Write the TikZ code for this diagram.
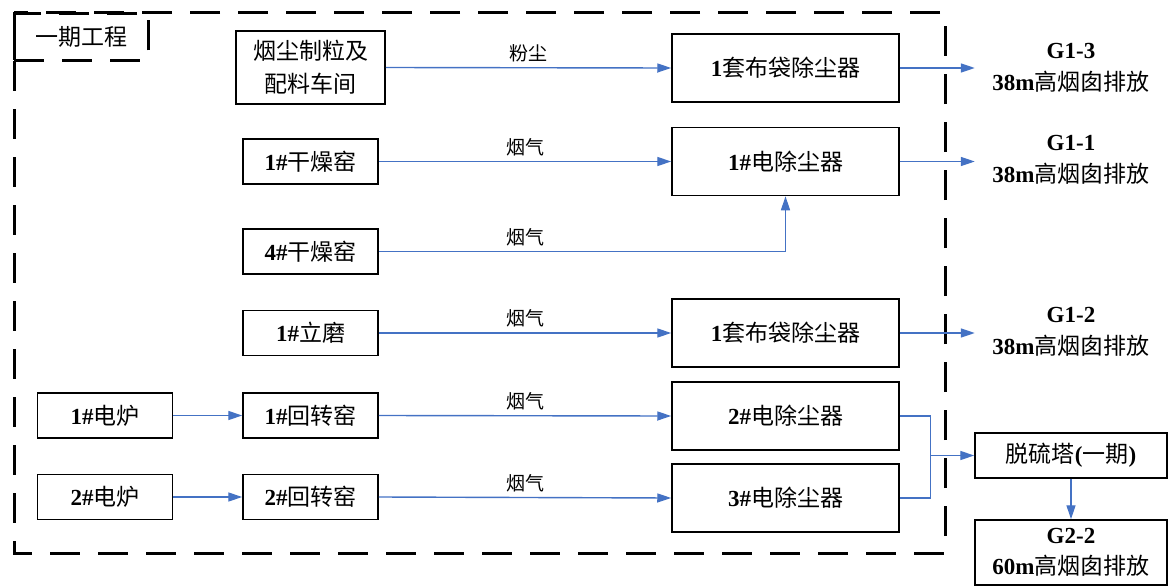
\documentclass[tikz,border=0pt]{standalone}
\usepackage{fontspec}
\setmainfont{Liberation Serif}
\newfontfamily\cjk{Noto Sans CJK SC}
\usepackage{tikz}
\usetikzlibrary{arrows.meta, positioning}
\definecolor{flowblue}{HTML}{4472C4}
\newcommand{\zh}[1]{{\cjk #1}}

\begin{document}
\begin{tikzpicture}[x=1pt, y=-1pt,
    box/.style={rectangle, draw=black, line width=1.5pt, fill=white, inner sep=0pt, align=center, font=\fontsize{23}{33}\selectfont},
    source/.style={box, minimum width=135pt, minimum height=45pt},
    cleaner/.style={box, minimum width=227pt, minimum height=68pt},
    outlet/.style={rectangle, inner sep=0pt, minimum width=192pt, align=center, font=\fontsize{23}{32}\selectfont},
    frame/.style={draw=black, line width=3pt, dash pattern=on 30pt off 18pt},
    flow/.style={draw=flowblue, line width=1.4pt, -{Triangle[length=14pt, width=9pt]}},
    pipe/.style={draw=flowblue, line width=1.4pt},
    gas/.style={font=\fontsize{19}{22}\selectfont, inner sep=5pt}
]
\useasboundingbox (0,0) rectangle (1168,586);

% Phase one boundary with its tab
\draw[frame] (14,13) rectangle (945,553);
\node[frame, rectangle, minimum width=134pt, minimum height=47pt, inner sep=0pt, font=\fontsize{23}{28}\selectfont] (phase) at (81,37) {\zh{一期工程}};

% Left column: furnaces
\node[source] (furnace1) at (105,415.5) {\textbf{1\#}\zh{电炉}};
\node[source] (furnace2) at (105,497) {\textbf{2\#}\zh{电炉}};

% Middle column: sources of dust and flue gas
\node[box, minimum width=149pt, minimum height=73pt] (feed) at (310.5,67.5) {\zh{烟尘制粒及}\\\zh{配料车间}};
\node[source] (dryer1) at (310.5,161.5) {\textbf{1\#}\zh{干燥窑}};
\node[source] (dryer4) at (310.5,251.5) {\textbf{4\#}\zh{干燥窑}};
\node[source] (mill1) at (310.5,333) {\textbf{1\#}\zh{立磨}};
\node[source] (kiln1) at (310.5,415.5) {\textbf{1\#}\zh{回转窑}};
\node[source] (kiln2) at (310.5,497) {\textbf{2\#}\zh{回转窑}};

% Right column: dust collectors
\node[cleaner] (bag1) at (785.5,68) {\textbf{1}\zh{套布袋除尘器}};
\node[cleaner] (esp1) at (785.5,161.5) {\textbf{1\#}\zh{电除尘器}};
\node[cleaner] (bag2) at (785.5,333) {\textbf{1}\zh{套布袋除尘器}};
\node[cleaner] (esp2) at (785.5,416) {\textbf{2\#}\zh{电除尘器}};
\node[cleaner] (esp3) at (785.5,498) {\textbf{3\#}\zh{电除尘器}};

% Outlets
\node[outlet] (stack13) at (1071,68) {\textbf{G1-3}\\\textbf{38m}\zh{高烟囱排放}};
\node[outlet] (stack11) at (1071,160) {\textbf{G1-1}\\\textbf{38m}\zh{高烟囱排放}};
\node[outlet] (stack12) at (1071,332) {\textbf{G1-2}\\\textbf{38m}\zh{高烟囱排放}};
\node[box, minimum width=192pt, minimum height=45pt] (desulf) at (1071,455.5) {\zh{脱硫塔}\textbf{(}\zh{一期}\textbf{)}};
\node[box, minimum width=192pt, minimum height=65pt, font=\fontsize{23}{31}\selectfont] (stack22) at (1071,552.5) {\textbf{G2-2}\\\textbf{60m}\zh{高烟囱排放}};

% Dust and flue gas lines
\draw[flow] (feed.east) -- (bag1.west) node[gas, midway, above] {\zh{粉尘}};
\draw[flow] (dryer1.east) -- (dryer1.east -| esp1.west) node[gas, midway, above] {\zh{烟气}};
\draw[flow] (dryer4.east) -| (esp1.south) node[gas, pos=0.18, above] {\zh{烟气}};
\draw[flow] (mill1.east) -- (bag2.west) node[gas, midway, above] {\zh{烟气}};
\draw[flow] (kiln1.east) -- (esp2.west) node[gas, midway, above] {\zh{烟气}};
\draw[flow] (kiln2.east) -- (esp3.west) node[gas, midway, above] {\zh{烟气}};
\draw[flow] (furnace1.east) -- (kiln1.west);
\draw[flow] (furnace2.east) -- (kiln2.west);

% To the stacks
\draw[flow] (bag1.east) -- (stack13.west |- bag1.east);
\draw[flow] (esp1.east) -- (stack11.west |- esp1.east);
\draw[flow] (bag2.east) -- (stack12.west |- bag2.east);
\draw[pipe] (esp2.east) -- ++(31,0) coordinate (join) -- (join |- esp3.east) -- (esp3.east);
\draw[flow] (join |- desulf.west) -- (desulf.west);
\draw[flow] (desulf.south) -- (stack22.north);
\end{tikzpicture}
\end{document}
